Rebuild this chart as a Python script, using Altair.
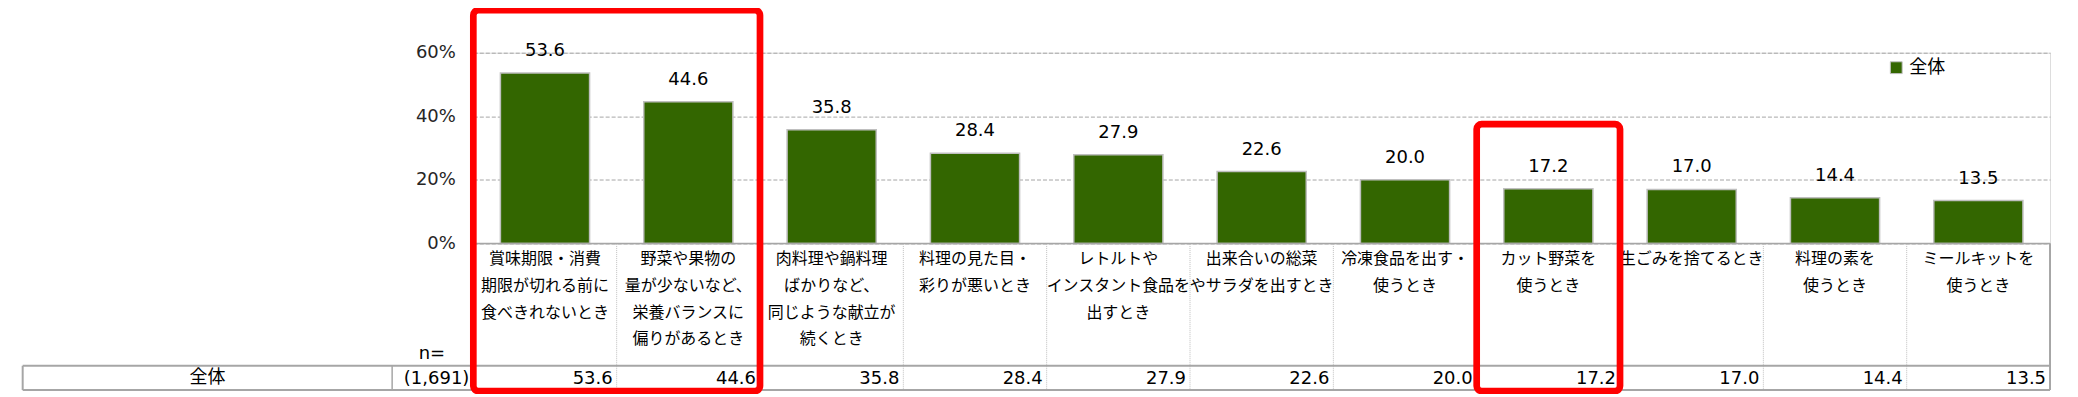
import altair as alt
import pandas as pd

# ---- data ----
categories = [
    "賞味期限・消費\n期限が切れる前に\n食べきれないとき",
    "野菜や果物の\n量が少ないなど、\n栄養バランスに\n偏りがあるとき",
    "肉料理や鍋料理\nばかりなど、\n同じような献立が\n続くとき",
    "料理の見た目・\n彩りが悪いとき",
    "レトルトや\nインスタント食品を\n出すとき",
    "出来合いの総菜\nやサラダを出すとき",
    "冷凍食品を出す・\n使うとき",
    "カット野菜を\n使うとき",
    "生ごみを捨てるとき",
    "料理の素を\n使うとき",
    "ミールキットを\n使うとき",
]
values = [53.6, 44.6, 35.8, 28.4, 27.9, 22.6, 20.0, 17.2, 17.0, 14.4, 13.5]
series_name = "全体"
row_label = "全体"
n_header = "n="
n_value = "(1,691)"
y_ticks = [0, 20, 40, 60]
box_starts = [categories[0], categories[7]]
box_ends = [categories[1], categories[7]]

# ---- layout ----
W, H = 1579, 191
NUM_FONT = "DejaVu Sans"
CJK_FONT = "Noto Sans CJK JP"
GREEN = "#336600"
GRAY = "#a6a6a6"

df = pd.DataFrame({"cat": categories, "value": values, "series": [series_name] * len(values),
                   "idx": list(range(len(values)))})

x_scale = alt.Scale(domain=categories, padding=0)
x_enc = alt.X("cat:N", scale=x_scale, axis=None, sort=None)
y_enc = alt.Y(
    "value:Q",
    scale=alt.Scale(domain=[0, 60], nice=False),
    axis=alt.Axis(values=y_ticks, labelExpr="datum.value + '%'", domain=False, ticks=False,
                  labelPadding=18, labelFont=NUM_FONT, labelFontSize=18, labelColor="#262626",
                  grid=True, gridDash=[4, 2], gridColor=GRAY, gridWidth=1, title=None),
)

base = alt.Chart(df)

bars = base.mark_bar(width=alt.RelativeBandSize(0.622), stroke="#bfbfbf", strokeWidth=1.5, opacity=1).encode(
    x=x_enc,
    y=y_enc,
    color=alt.Color("series:N", scale=alt.Scale(domain=[series_name], range=[GREEN]),
                    legend=alt.Legend(orient="none", legendX=1416, legendY=6, title=None,
                                      symbolType="square", symbolSize=140, symbolStrokeColor="#bfbfbf",
                                      symbolStrokeWidth=1, symbolOpacity=1, labelFont=CJK_FONT,
                                      labelFontSize=18, labelColor="#000000", labelOffset=4, padding=0)),
)

value_labels = base.mark_text(baseline="middle", dy=-22, font=NUM_FONT, fontSize=18, color="#000000").encode(
    x=x_enc, y="value:Q", text=alt.Text("value:Q", format=".1f")
)

cat_labels = base.mark_text(baseline="top", lineBreak="\n", lineHeight=26.8, font=CJK_FONT,
                            fontSize=16, color="#000000").encode(
    x=x_enc, y=alt.value(198.7), text="cat:N"
)

table_values = base.mark_text(baseline="middle", align="right", dx=-4, font=NUM_FONT, fontSize=18,
                              color="#000000").encode(
    x=alt.X("cat:N", scale=x_scale, axis=None, bandPosition=1),
    y=alt.value(326.7),
    text=alt.Text("value:Q", format=".1f"),
)

dividers = base.transform_filter("datum.idx > 0").mark_rule(strokeDash=[1, 1], color="#bfbfbf", strokeWidth=1).encode(
    x=alt.X("cat:N", scale=x_scale, axis=None, bandPosition=0),
    y=alt.value(191.5), y2=alt.value(337.8),
)

# table frame (layout lines)
frame_df = pd.DataFrame({"k": [0]})
fr = alt.Chart(frame_df)
axis_line = fr.mark_rule(color=GRAY, strokeWidth=1.5).encode(x=alt.value(0), x2=alt.value(W), y=alt.value(191))
h_top = fr.mark_rule(color=GRAY, strokeWidth=2).encode(x=alt.value(-451.3), x2=alt.value(W), y=alt.value(313.5))
h_bot = fr.mark_rule(color=GRAY, strokeWidth=2).encode(x=alt.value(-451.3), x2=alt.value(W), y=alt.value(337.8))
v_left = fr.mark_rule(color=GRAY, strokeWidth=2).encode(x=alt.value(-451.3), y=alt.value(313.5), y2=alt.value(337.8))
v_mid = fr.mark_rule(color=GRAY, strokeWidth=1.5).encode(x=alt.value(-81.3), y=alt.value(313.5), y2=alt.value(337.8))
v_cat = fr.mark_rule(color=GRAY, strokeWidth=1.5).encode(x=alt.value(0), y=alt.value(191), y2=alt.value(337.8))
v_right = fr.mark_rule(color=GRAY, strokeWidth=2).encode(x=alt.value(W), y=alt.value(191), y2=alt.value(337.8))

row_text = fr.mark_text(font=CJK_FONT, fontSize=18, baseline="middle", align="center", color="#000000").encode(
    x=alt.value(-266.3), y=alt.value(325.5), text=alt.value(row_label))
n_text = fr.mark_text(font=NUM_FONT, fontSize=18, baseline="middle", align="right", color="#000000").encode(
    x=alt.value(-4), y=alt.value(326.5), text=alt.value(n_value))
n_head = fr.mark_text(font=NUM_FONT, fontSize=18, baseline="middle", align="center", color="#000000").encode(
    x=alt.value(-41.5), y=alt.value(301.5), text=alt.value(n_header))

# red highlight boxes
box_df = pd.DataFrame({"start": box_starts, "end": box_ends})
boxes = []
box_tops = [-42.5, 71.5]
for i, top in enumerate(box_tops):
    boxes.append(
        alt.Chart(box_df.iloc[[i]]).mark_rect(filled=False, stroke="#ff0000", strokeWidth=6.7, cornerRadius=5).encode(
            x=alt.X("start:N", scale=x_scale, axis=None, bandPosition=0),
            x2=alt.X2("end:N", bandPosition=1),
            y=alt.value(top), y2=alt.value(338.8),
        )
    )

chart = alt.layer(
    bars, value_labels, axis_line, dividers, cat_labels, h_top, h_bot, v_left, v_mid, v_cat, v_right,
    table_values, row_text, n_text, n_head, *boxes
).properties(
    width=W, height=H,
    autosize=alt.AutoSizeParams(type="none"),
    padding={"left": 466, "top": 44.5, "right": 20, "bottom": 150},
).configure_view(stroke=None).configure(background="white")

chart.save("out.html", embed_options={"renderer": "svg", "actions": False})
